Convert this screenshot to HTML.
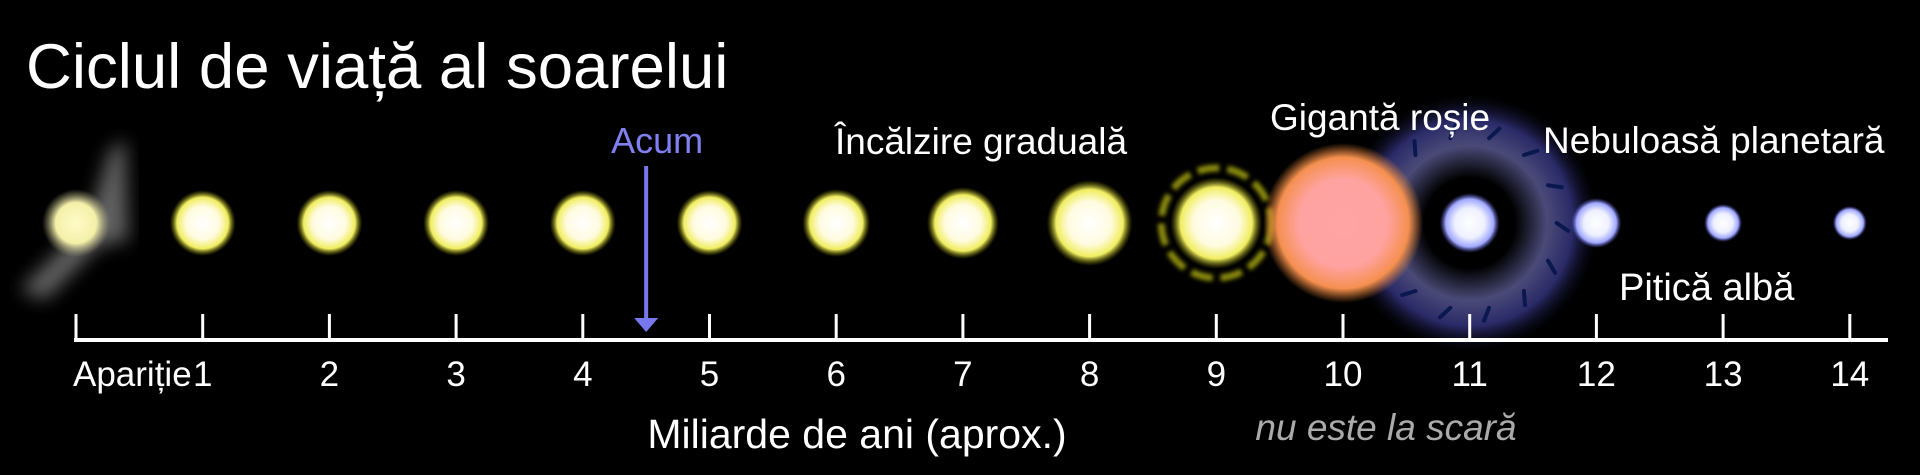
<!DOCTYPE html>
<html><head><meta charset="utf-8">
<style>
html,body{margin:0;padding:0;background:#000;}
svg{display:block;font-family:"Liberation Sans",sans-serif;}
</style></head>
<body>
<svg id="chart" width="1920" height="475" viewBox="0 0 1920 475">
<defs>
  <radialGradient id="gYellow"><stop offset="0" stop-color="#fff"/><stop offset="0.5" stop-color="#fffbe0"/><stop offset="0.78" stop-color="#f0ee60"/><stop offset="1" stop-color="#808000" stop-opacity="0"/></radialGradient>
  <radialGradient id="gPale"><stop offset="0" stop-color="#fffbc8"/><stop offset="0.6" stop-color="#f4f0a8"/><stop offset="1" stop-color="#aaa880" stop-opacity="0"/></radialGradient>
  <radialGradient id="gGiant"><stop offset="0" stop-color="#ffa4a4"/><stop offset="0.55" stop-color="#ffa2a0"/><stop offset="0.82" stop-color="#f59050"/><stop offset="1" stop-color="#e08030" stop-opacity="0"/></radialGradient>
  <radialGradient id="gBlue"><stop offset="0" stop-color="#fff"/><stop offset="0.5" stop-color="#eef0ff"/><stop offset="0.8" stop-color="#a0a8ff"/><stop offset="1" stop-color="#5050c0" stop-opacity="0"/></radialGradient>
  <radialGradient id="gNeb"><stop offset="0" stop-color="#000"/><stop offset="0.35" stop-color="#000"/><stop offset="0.6" stop-color="#4a4a78"/><stop offset="0.8" stop-color="#2a2a68"/><stop offset="1" stop-color="#0a0a20" stop-opacity="0"/></radialGradient>
  <filter id="blur8"><feGaussianBlur stdDeviation="9"/></filter>
  <filter id="blur2"><feGaussianBlur stdDeviation="2"/></filter>
</defs>
<rect width="1920" height="475" fill="#000"/>
<text x="26" y="88" font-size="63.5" fill="#fff">Ciclul de viață al soarelui</text>
<g id="nebulae"></g>
<g id="stars"></g>
<g id="axis"></g>
<text x="857" y="448" font-size="41" fill="#fff" text-anchor="middle">Miliarde de ani (aprox.)</text>
<text x="1386" y="440" font-size="37" fill="#aaa" font-style="italic" text-anchor="middle">nu este la scară</text>
<text x="835" y="154" font-size="37" fill="#fff">Încălzire graduală</text>
<text x="1270" y="130" font-size="37" fill="#fff">Gigantă roșie</text>
<text x="1543" y="153" font-size="37" fill="#fff">Nebuloasă planetară</text>
<text x="1619" y="300" font-size="38" fill="#fff">Pitică albă</text>
</svg>
<script>
const tickValues = [0,1,2,3,4,5,6,7,8,9,10,11,12,13,14];
const tickLabels = ["Apariție","1","2","3","4","5","6","7","8","9","10","11","12","13","14"];
const starAges = [0,1,2,3,4,5,6,7,8,9,10,11,12,13,14];
const starRadii = [34,33,33,33,33,33,34,36,43,46,80,30,25,19,17];
const starKinds = ["pale","yellow","yellow","yellow","yellow","yellow","yellow","yellow","yellow","yellow","giant","nebula","blue","blue","blue"];
const nowAge = 4.5;

const NS = "http://www.w3.org/2000/svg";
const x0 = 76, unit = 126.7, axisY = 340, starY = 223;
function xScale(v){ return x0 + v*unit; }
function mk(tag, attrs, parent){ const e=document.createElementNS(NS,tag); for(const k in attrs) e.setAttribute(k,attrs[k]); parent.appendChild(e); return e; }

const nebulae = document.getElementById("nebulae");
const stars = document.getElementById("stars");
const axis = document.getElementById("axis");

const cloud = mk("path",{d:"M20 290 L60 250 L95 200 L110 150 L125 140 L128 240 L100 245 L45 300 Z",fill:"#7a7a7a",filter:"url(#blur8)",opacity:"0.8"},stars);



starAges.forEach((age,i)=>{
  const cx = xScale(age), r = starRadii[i], kind = starKinds[i];
  if(kind==="nebula"){
    const neb = mk("circle",{cx:cx,cy:starY,r:r*4.3,fill:"url(#gNeb)"},nebulae);
    
    
    for(let k=0;k<14;k++){
      const a = k/14*Math.PI*2, rr = r*2.9;
      const sx = cx+Math.cos(a)*rr, sy = starY+Math.sin(a)*rr;
      const ln = mk("line",{x1:sx,y1:sy,x2:sx+Math.cos(a+0.6)*14,y2:sy+Math.sin(a+0.6)*14,stroke:"#0a1850","stroke-width":4,"stroke-linecap":"round"},nebulae);
      
      
    }
  }
  if(kind==="yellow" && age===9){
    const ring = mk("circle",{cx:cx,cy:starY,r:r+9,fill:"none",stroke:"#8a8a10","stroke-width":7,"stroke-dasharray":"22 8",filter:"url(#blur2)"},stars);
    
    
  }
  const fill = kind==="pale"?"url(#gPale)":kind==="giant"?"url(#gGiant)":(kind==="yellow")?"url(#gYellow)":"url(#gBlue)";
  const c = mk("circle",{cx:cx,cy:starY,r:r,fill:fill},stars);
  
  
});

const line = mk("line",{x1:x0-2,y1:axisY,x2:1888,y2:axisY,stroke:"#fff","stroke-width":4},axis);


tickValues.forEach((v,i)=>{
  const x = xScale(v);
  const t = mk("line",{x1:x,y1:314,x2:x,y2:axisY,stroke:"#fff","stroke-width":3},axis);
  
  
  const lb = mk("text",{x:i===0?x-3:x,y:386,"font-size":35,fill:"#fff","text-anchor":i===0?"start":"middle"},axis);
  lb.textContent = tickLabels[i];
  
  
});

const nx = xScale(nowAge);
const arr = mk("line",{x1:nx,y1:166,x2:nx,y2:320,stroke:"#7878ee","stroke-width":4},axis);


const head = mk("polygon",{points:`${nx-12},318 ${nx+12},318 ${nx},332`,fill:"#7878ee"},axis);


const nl = mk("text",{x:nx+11,y:153,"font-size":36,fill:"#8080f0","text-anchor":"middle"},axis);
nl.textContent = "Acum";


</script>
</body></html>
